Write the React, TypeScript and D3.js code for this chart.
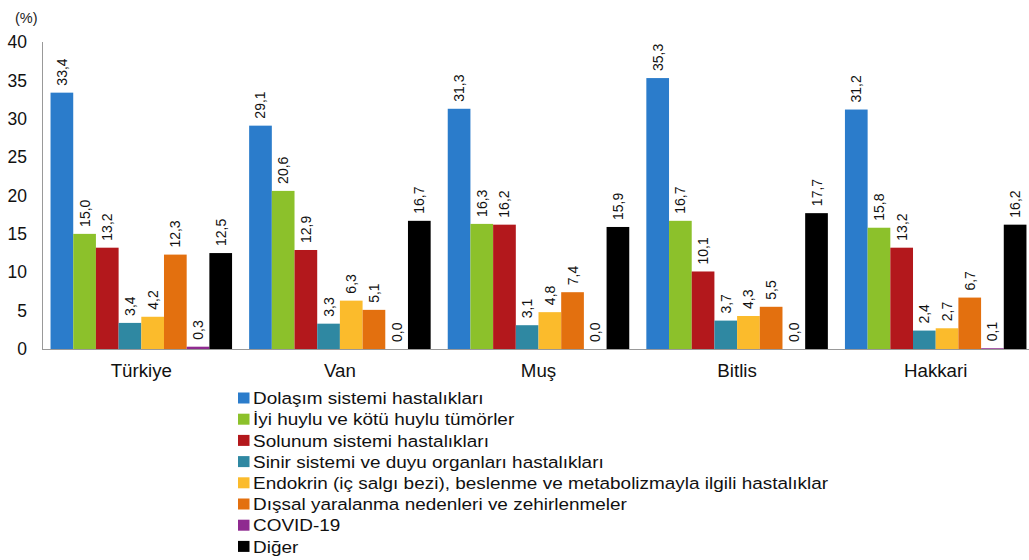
import React from "react";
import * as d3 from "d3";

const regions = ["Türkiye", "Van", "Muş", "Bitlis", "Hakkari"];
const causes = [
  "Dolaşım sistemi hastalıkları",
  "İyi huylu ve kötü huylu tümörler",
  "Solunum sistemi hastalıkları",
  "Sinir sistemi ve duyu organları hastalıkları",
  "Endokrin (iç salgı bezi), beslenme ve metabolizmayla ilgili hastalıklar",
  "Dışsal yaralanma nedenleri ve zehirlenmeler",
  "COVID-19",
  "Diğer",
];
const colors = ["#2b7ccb", "#8cc12b", "#b3181c", "#2f88a2", "#fbbb2c", "#e3700f", "#8f2a90", "#000000"];
const turkiye = [33.4, 15.0, 13.2, 3.4, 4.2, 12.3, 0.3, 12.5];
const van = [29.1, 20.6, 12.9, 3.3, 6.3, 5.1, 0.0, 16.7];
const mus = [31.3, 16.3, 16.2, 3.1, 4.8, 7.4, 0.0, 15.9];
const bitlis = [35.3, 16.7, 10.1, 3.7, 4.3, 5.5, 0.0, 17.7];
const hakkari = [31.2, 15.8, 13.2, 2.4, 2.7, 6.7, 0.1, 16.2];
const values = [turkiye, van, mus, bitlis, hakkari];
const yTicks = [0, 5, 10, 15, 20, 25, 30, 35, 40];

const W = 1029, H = 560;
const FONT = "'Liberation Sans', Arial, sans-serif";

export default function App() {
  const x0 = d3.scaleBand<string>().domain(regions).range([42, 1035]).paddingInner(0.086).paddingOuter(0.043);
  const x1 = d3.scaleBand<string>().domain(causes).range([0, x0.bandwidth()]);
  const y = d3.scaleLinear().domain([0, 40]).range([349, 42]);
  const fmt = (v: number) => v.toFixed(1).replace(".", ",");

  return (
    <div style={{ position: "absolute", left: 0, top: 0 }}>
      <svg width={W} height={H} style={{ display: "block", background: "#fff" }} fontFamily={FONT}>
        <text x={15} y={23} fontSize={14.5} fill="#222">(%)</text>
        {yTicks.map((t) => (
          <text key={t} x={27} y={y(t)} dy="0.35em" textAnchor="end" fontSize={17.5} fill="#111">{t}</text>
        ))}
        {regions.map((r, gi) => (
          <g key={r}>
            {causes.map((c, ci) => {
              const v = values[gi][ci];
              const bx = (x0(r) as number) + (x1(c) as number);
              const bw = x1.bandwidth();
              const cx = bx + bw / 2;
              const ly = y(v) - 7;
              return (
                <g key={c}>
                  <rect x={bx} y={y(v)} width={bw} height={349 - y(v)} fill={colors[ci]} />
                  <text
                    transform={`translate(${cx + 5},${ly}) rotate(-90)`}
                    fontSize={14}
                    fill="#111"
                  >
                    {fmt(v)}
                  </text>
                </g>
              );
            })}
            <text
              transform={`translate(${(x0(r) as number) + x0.bandwidth() / 2},377) scale(1.07,1)`}
              textAnchor="middle"
              fontSize={17.5}
              fill="#111"
            >
              {r}
            </text>
          </g>
        ))}
        <line x1={42.5} x2={42.5} y1={42} y2={349} stroke="#999" />
        <line x1={42} x2={W} y1={349.5} y2={349.5} stroke="#999" />
        {causes.map((c, i) => (
          <g key={c} transform={`translate(238,${398 + i * 21.2})`}>
            <rect x={0} y={-5.5} width={11.5} height={11} fill={colors[i]} />
            <text transform="translate(15,0) scale(1.115,1)" dy="0.36em" fontSize={17} fill="#111">{c}</text>
          </g>
        ))}
      </svg>
    </div>
  );
}
